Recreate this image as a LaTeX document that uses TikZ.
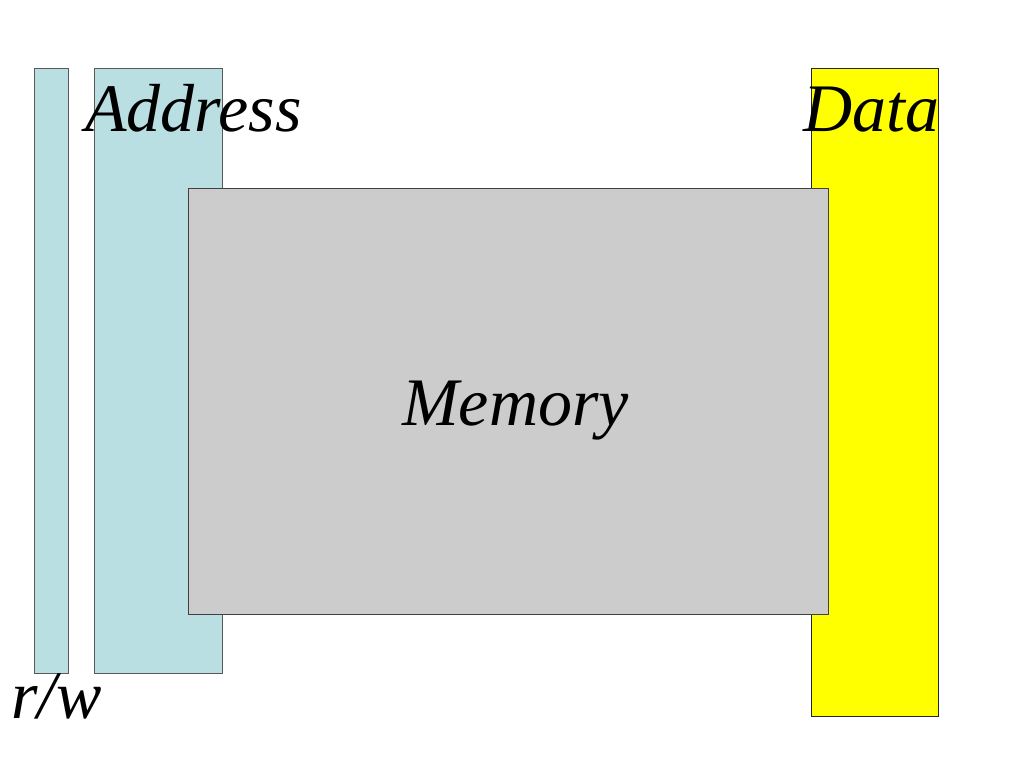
\documentclass[tikz,border=0pt]{standalone}
\usepackage{fontspec}
\setmainfont{Liberation Serif}
\definecolor{busblue}{RGB}{185,223,227}
\definecolor{busyellow}{RGB}{255,255,0}
\definecolor{memgray}{RGB}{204,204,204}
\begin{document}
\begin{tikzpicture}[x=1pt, y=-1pt,
    bar/.style={draw=black!65, line width=1.2pt, inner sep=0pt, anchor=north west},
    lbl/.style={inner sep=0pt, anchor=base west, font=\fontsize{68}{80}\selectfont\itshape}]
    \useasboundingbox (0,0) rectangle (1024,768);
    \node[bar, fill=busblue, minimum width=34pt, minimum height=605pt] (rw) at (34,68) {};
    \node[bar, fill=busblue, minimum width=128pt, minimum height=605pt] (addr) at (94,68) {};
    \node[bar, draw=black!85, fill=busyellow, minimum width=127pt, minimum height=648pt] (data) at (811,68) {};
    \node[bar, draw=black!75, fill=memgray, minimum width=640pt, minimum height=426pt] (mem) at (188,188) {};
    \node[lbl] (addrlbl) at (85,131) {Address};
    \node[lbl] (datalbl) at (803,131) {Data};
    \node[lbl] (memlbl) at (402,425) {Memory};
    \node[lbl] (rwlbl) at (11,718) {r/w};
\end{tikzpicture}
\end{document}
